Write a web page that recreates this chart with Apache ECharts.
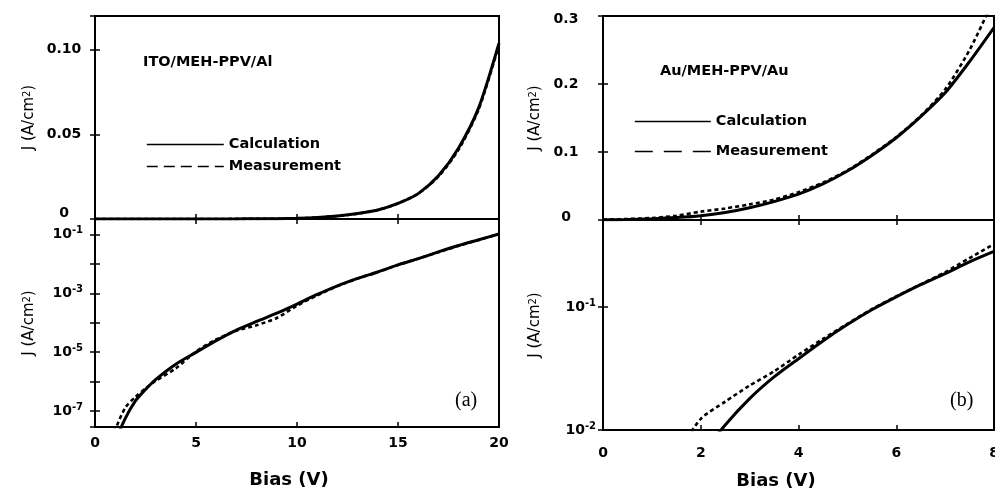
<!DOCTYPE html>
<html>
<head>
<meta charset="utf-8">
<script src="https://cdn.jsdelivr.net/npm/echarts@6/dist/echarts.min.js"></script>
<style>
html, body { margin: 0; padding: 0; background: #fff; }
#chart { width: 995px; height: 491px; }
</style>
</head>
<body>
<div id="chart"></div>
<script>
// ITO/MEH-PPV/Al device: bias (V) and current density J (A/cm^2)
const biasA = [0, 0.5, 1, 1.5, 2, 2.5, 3, 4, 5, 6, 7, 8, 9, 10, 11, 12, 13, 14, 15, 16, 17, 18, 19, 20];
const calcA = [1e-10, 1e-9, 9e-9, 5.6e-8, 2.2e-7, 5.4e-7, 1.17e-6, 3.9e-6, 9.8e-6, 2.45e-5, 5.6e-5, 1.1e-4,
               2.1e-4, 4.3e-4, 9.1e-4, 1.8e-3, 3.2e-3, 5.3e-3, 9.2e-3, 1.5e-2, 2.55e-2, 4.2e-2, 6.6e-2, 1.04e-1];
const measA = [1e-10, 1.5e-9, 2.2e-8, 1.3e-7, 3.0e-7, 5.8e-7, 1.05e-6, 2.8e-6, 1.05e-5, 2.7e-5, 5.3e-5, 8.2e-5,
               1.45e-4, 3.8e-4, 8.5e-4, 1.75e-3, 3.15e-3, 5.3e-3, 9.2e-3, 1.5e-2, 2.5e-2, 4.1e-2, 6.5e-2, 1.03e-1];

// Au/MEH-PPV/Au device
const biasB = [0, 0.5, 1, 1.5, 2, 2.5, 3, 3.5, 4, 4.5, 5, 5.5, 6, 6.5, 7, 7.5, 8];
const calcB = [0.0003, 0.0008, 0.0018, 0.0035, 0.0062, 0.011, 0.018, 0.027, 0.038, 0.053, 0.072, 0.095,
               0.121, 0.152, 0.187, 0.233, 0.283];
const measB = [0.0005, 0.0015, 0.003, 0.0062, 0.0123, 0.017, 0.023, 0.030, 0.041, 0.055, 0.073, 0.096,
               0.122, 0.153, 0.192, 0.25, 0.325];

// Axis tick labels
const linTicksA = [0, 0.05, 0.1];
const linTextA = ['0', '0.05', '0.10'];
const linTicksB = [0, 0.1, 0.2, 0.3];
const linTextB = ['0', '0.1', '0.2', '0.3'];
const logExpA = [-1, -3, -5, -7];
const logExpB = [-1, -2];

const seriesNames = ['Calculation', 'Measurement'];
const deviceA = 'ITO/MEH-PPV/Al';
const deviceB = 'Au/MEH-PPV/Au';
const biasTitle = 'Bias (V)';

const SANS = 'DejaVu Sans';
const INK = '#000';
const NONE = 'rgba(0,0,0,0)';

const tickStyle = { inside: true, length: 5, lineStyle: { color: INK, width: 1.5 } };
const labelBase = { color: INK, fontFamily: SANS, fontWeight: 'bold', fontSize: 14 };
const supRich = {
  b: { fontFamily: SANS, fontWeight: 'bold', fontSize: 14, lineHeight: 18, color: INK },
  s: { fontFamily: SANS, fontWeight: 'bold', fontSize: 10, lineHeight: 10, verticalAlign: 'top', color: INK },
  up: { fontFamily: SANS, fontWeight: 'bold', fontSize: 14, color: INK, padding: [0, 0, 12, 0] },
  up2: { fontFamily: SANS, fontWeight: 'bold', fontSize: 14, color: INK, padding: [0, 0, 6, 0] },
  dn: { fontFamily: SANS, fontWeight: 'bold', fontSize: 14, color: INK, padding: [6, 0, 0, 0] }
};

function lookup(v, ticks, texts) {
  for (let i = 0; i < ticks.length; i++) {
    if (Math.abs(v - ticks[i]) < 1e-9) return texts[i];
  }
  return '';
}

function powLabel(exps) {
  return function (v) {
    const e = Math.log10(v);
    const r = Math.round(e);
    if (Math.abs(e - r) > 1e-6 || exps.indexOf(r) < 0) return '';
    return '{b|10}{s|' + r + '}';
  };
}

const yName = 'J (A/cm{s|2})';
const yNameStyle = {
  color: INK, fontFamily: SANS, fontSize: 15,
  rich: {
    s: { fontFamily: SANS, fontSize: 10, lineHeight: 10, verticalAlign: 'top', color: INK }
  }
};

function xAxis(grid, pos, max, interval, opts) {
  return Object.assign({
    type: 'value', gridIndex: grid, position: pos, min: 0, max: max, interval: interval,
    axisLine: { show: false }, splitLine: { show: false }, axisTick: tickStyle,
    axisLabel: { show: false }
  }, opts || {});
}

function yAxis(grid, pos, opts) {
  return Object.assign({
    gridIndex: grid, position: pos,
    axisLine: { show: false }, splitLine: { show: false }, axisTick: tickStyle,
    axisLabel: { show: false }
  }, opts);
}

const logA = { type: 'log', logBase: 10, min: 2.85e-8, max: 0.335, splitNumber: 7 };
const logB = { type: 'log', logBase: 10, min: 0.01, max: 0.51, splitNumber: 2 };
const linA = { type: 'value', min: 0, max: 0.12, interval: 0.05 };
const linB = { type: 'value', min: 0, max: 0.3, interval: 0.1 };

const gridBox = { show: true, borderColor: INK, borderWidth: 2, backgroundColor: 'transparent', outerBoundsMode: 'none' };

function pairs(xs, ys) { return xs.map((x, i) => [x, ys[i]]); }

// grid g draws against its bottom x axis and left y axis (index 2g)
function lineSeries(name, g, xs, ys) {
  const dashed = name === seriesNames[1];
  return {
    type: 'line', name: name, xAxisIndex: 2 * g, yAxisIndex: 2 * g,
    data: pairs(xs, ys), symbol: 'none', showSymbol: false, clip: true, smooth: 0.25, animation: false,
    itemStyle: { color: INK },
    lineStyle: dashed ? { color: INK, width: 2.6, type: [4, 3] } : { color: INK, width: 3 },
    z: dashed ? 3 : 2
  };
}

const legendText = { color: INK, fontFamily: SANS, fontWeight: 'bold', fontSize: 14.5 };
const hiddenMark = { color: NONE, borderColor: NONE, borderWidth: 0 };

const option = {
  backgroundColor: '#fff',
  animation: false,
  grid: [
    Object.assign({ left: 95, top: 16, width: 404, height: 203 }, gridBox),
    Object.assign({ left: 95, top: 219, width: 404, height: 208 }, gridBox),
    Object.assign({ left: 603, top: 16, width: 391, height: 204 }, gridBox),
    Object.assign({ left: 603, top: 220, width: 391, height: 210 }, gridBox)
  ],
  xAxis: [
    xAxis(0, 'bottom', 20, 5),
    xAxis(0, 'top', 20, 5),
    xAxis(1, 'bottom', 20, 5, {
      axisLabel: Object.assign({ show: true, margin: 9 }, labelBase),
      name: biasTitle, nameLocation: 'middle', nameGap: 44,
      nameTextStyle: { color: INK, fontFamily: SANS, fontWeight: 'bold', fontSize: 18, padding: [0, 16, 0, 0] }
    }),
    xAxis(1, 'top', 20, 5),
    xAxis(2, 'bottom', 8, 2),
    xAxis(2, 'top', 8, 2),
    xAxis(3, 'bottom', 8, 2, {
      axisLabel: Object.assign({ show: true, margin: 16 }, labelBase),
      name: biasTitle, nameLocation: 'middle', nameGap: 42,
      nameTextStyle: { color: INK, fontFamily: SANS, fontWeight: 'bold', fontSize: 18, padding: [0, 45, 0, 0] }
    }),
    xAxis(3, 'top', 8, 2)
  ],
  yAxis: [
    yAxis(0, 'left', Object.assign({}, linA, {
      axisLabel: Object.assign({
        show: true, margin: 31, align: 'center', rich: supRich,
        formatter: v => { const t = lookup(v, linTicksA, linTextA); return v === 0 ? '{up|' + t + '}' : t; }
      }, labelBase),
      name: yName, nameLocation: 'middle', nameGap: 58, nameTextStyle: yNameStyle
    })),
    yAxis(0, 'right', Object.assign({}, linA)),
    yAxis(1, 'left', Object.assign({}, logA, {
      axisLabel: Object.assign({ show: true, margin: 12, rich: supRich, formatter: powLabel(logExpA) }, labelBase),
      name: yName, nameLocation: 'middle', nameGap: 58, nameTextStyle: yNameStyle
    })),
    yAxis(1, 'right', Object.assign({}, logA)),
    yAxis(2, 'left', Object.assign({}, linB, {
      axisLabel: Object.assign({
        show: true, margin: 37, align: 'center', rich: supRich,
        formatter: v => {
          const t = lookup(v, linTicksB, linTextB);
          if (v === 0) return '{up2|' + t + '}';
          if (Math.abs(v - 0.3) < 1e-9) return '{dn|' + t + '}';
          return t;
        }
      }, labelBase),
      name: yName, nameLocation: 'middle', nameGap: 60, nameTextStyle: yNameStyle
    })),
    yAxis(2, 'right', Object.assign({}, linB)),
    yAxis(3, 'left', Object.assign({}, logB, {
      axisLabel: Object.assign({ show: true, margin: 7, rich: supRich, formatter: powLabel(logExpB) }, labelBase),
      name: yName, nameLocation: 'middle', nameGap: 60, nameTextStyle: yNameStyle
    })),
    yAxis(3, 'right', Object.assign({}, logB))
  ],
  legend: [
    {
      left: 146, top: 137, orient: 'vertical', padding: 0, itemGap: 7,
      itemWidth: 77, itemHeight: 14, selectedMode: false, textStyle: legendText,
      itemStyle: hiddenMark,
      data: [
        { name: seriesNames[0], itemStyle: hiddenMark, lineStyle: { width: 1.6, type: 'solid', color: INK } },
        { name: seriesNames[1], itemStyle: hiddenMark, lineStyle: { width: 1.6, type: [11, 6], color: INK } }
      ]
    },
    {
      left: 634, top: 114, orient: 'vertical', padding: 0, itemGap: 15,
      itemWidth: 76, itemHeight: 14, selectedMode: false, textStyle: legendText,
      itemStyle: hiddenMark,
      data: [
        { name: seriesNames[0], itemStyle: hiddenMark, lineStyle: { width: 1.6, type: 'solid', color: INK } },
        { name: seriesNames[1], itemStyle: hiddenMark, lineStyle: { width: 1.6, type: [18, 11], color: INK } }
      ]
    }
  ],
  title: [
    { text: deviceA, left: 143, top: 55, padding: 0,
      textStyle: { color: INK, fontFamily: SANS, fontWeight: 'bold', fontSize: 14.5 } },
    { text: deviceB, left: 660, top: 64, padding: 0,
      textStyle: { color: INK, fontFamily: SANS, fontWeight: 'bold', fontSize: 14.5 } },
    { text: '(a)', left: 455, top: 391, padding: 0,
      textStyle: { color: INK, fontFamily: 'Liberation Serif', fontWeight: 'normal', fontSize: 20 } },
    { text: '(b)', left: 950, top: 391, padding: 0,
      textStyle: { color: INK, fontFamily: 'Liberation Serif', fontWeight: 'normal', fontSize: 20 } }
  ],
  series: [
    lineSeries(seriesNames[0], 0, biasA, calcA),
    lineSeries(seriesNames[1], 0, biasA, measA),
    lineSeries(seriesNames[0], 1, biasA, calcA),
    lineSeries(seriesNames[1], 1, biasA, measA),
    lineSeries(seriesNames[0], 2, biasB, calcB),
    lineSeries(seriesNames[1], 2, biasB, measB),
    lineSeries(seriesNames[0], 3, biasB, calcB),
    lineSeries(seriesNames[1], 3, biasB, measB)
  ]
};

const chart = echarts.init(document.getElementById('chart'), null, { renderer: 'canvas' });
chart.setOption(option);
</script>
</body>
</html>
